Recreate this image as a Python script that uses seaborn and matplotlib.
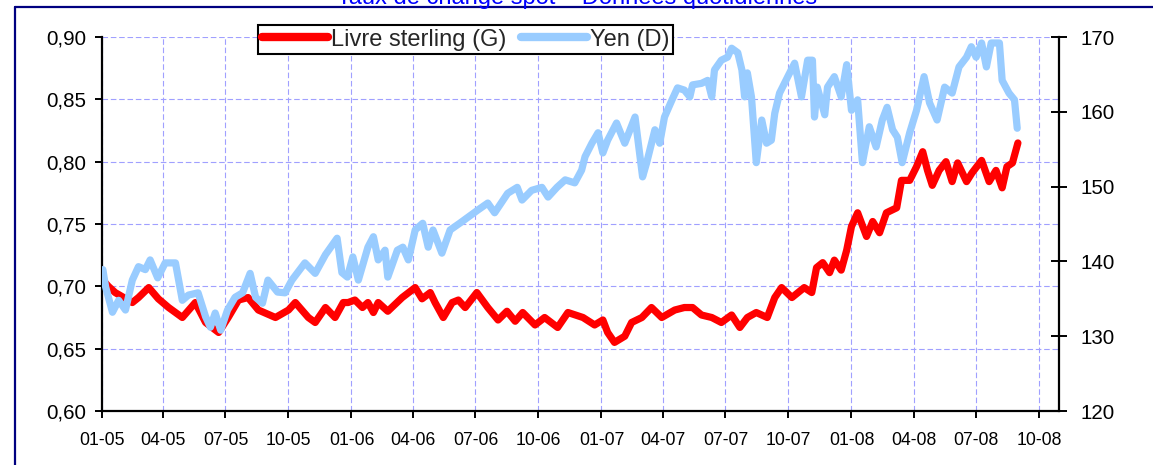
import matplotlib
matplotlib.use("Agg")
import matplotlib.pyplot as plt
import matplotlib.dates as mdates
from matplotlib.lines import Line2D
from matplotlib.ticker import FuncFormatter
import pandas as pd
import seaborn as sns

# EUR/GBP (left axis)
gbp_dates = [
    "2005-01-03", "2005-01-11", "2005-01-21", "2005-02-15", "2005-02-24", "2005-03-11", "2005-03-25",
    "2005-04-09", "2005-04-29", "2005-05-18", "2005-06-02", "2005-06-21", "2005-07-05", "2005-07-20",
    "2005-08-03", "2005-08-18", "2005-09-12", "2005-10-01", "2005-10-11", "2005-10-30", "2005-11-09",
    "2005-11-24", "2005-12-08", "2005-12-20", "2005-12-27",
    "2006-01-06", "2006-01-17", "2006-01-25", "2006-02-02", "2006-02-09", "2006-02-23", "2006-03-16",
    "2006-04-04", "2006-04-14", "2006-04-26", "2006-05-03", "2006-05-15", "2006-05-28", "2006-06-06",
    "2006-06-16", "2006-07-03", "2006-07-19", "2006-08-03", "2006-08-16", "2006-08-28", "2006-09-08",
    "2006-09-26", "2006-10-10", "2006-10-29", "2006-11-13", "2006-12-05", "2006-12-22",
    "2007-01-03", "2007-01-10", "2007-01-20", "2007-02-04", "2007-02-14", "2007-03-01", "2007-03-15",
    "2007-03-30", "2007-04-18", "2007-05-02", "2007-05-14", "2007-05-27", "2007-06-11", "2007-06-25",
    "2007-07-10", "2007-07-22", "2007-08-02", "2007-08-15", "2007-08-31", "2007-09-11", "2007-09-21",
    "2007-10-06", "2007-10-24", "2007-11-04", "2007-11-11", "2007-11-20", "2007-11-30", "2007-12-07",
    "2007-12-17", "2007-12-25",
    "2008-01-01", "2008-01-10", "2008-01-23", "2008-02-01", "2008-02-11", "2008-02-21", "2008-03-07",
    "2008-03-14", "2008-03-26", "2008-04-05", "2008-04-14", "2008-04-21", "2008-04-28", "2008-05-08",
    "2008-05-18", "2008-05-27", "2008-06-04", "2008-06-17", "2008-06-25", "2008-07-09", "2008-07-20",
    "2008-07-30", "2008-08-08", "2008-08-15", "2008-08-23", "2008-08-31",
]
gbp_values = [
    0.705, 0.700, 0.695, 0.687, 0.691, 0.699, 0.690, 0.683, 0.675, 0.687, 0.671, 0.663, 0.675, 0.689,
    0.691, 0.681, 0.675, 0.681, 0.687, 0.675, 0.671, 0.683, 0.675, 0.687, 0.687,
    0.689, 0.683, 0.687, 0.679, 0.687, 0.680, 0.691, 0.699, 0.690, 0.695, 0.687, 0.675, 0.687, 0.689,
    0.683, 0.695, 0.683, 0.673, 0.680, 0.672, 0.679, 0.669, 0.675, 0.667, 0.679, 0.675, 0.669,
    0.673, 0.663, 0.655, 0.660, 0.671, 0.675, 0.683, 0.675, 0.681, 0.683, 0.683, 0.677, 0.675, 0.671,
    0.677, 0.667, 0.675, 0.679, 0.675, 0.691, 0.699, 0.691, 0.699, 0.695, 0.715, 0.719, 0.711, 0.721,
    0.713, 0.729,
    0.748, 0.759, 0.740, 0.752, 0.743, 0.759, 0.763, 0.785, 0.785, 0.796, 0.808, 0.793, 0.781, 0.793,
    0.800, 0.784, 0.799, 0.784, 0.791, 0.801, 0.784, 0.793, 0.779, 0.796, 0.799, 0.815,
]

# EUR/JPY (right axis)
jpy_dates = [
    "2005-01-03", "2005-01-07", "2005-01-17", "2005-01-26", "2005-02-05", "2005-02-15", "2005-02-24",
    "2005-03-06", "2005-03-13", "2005-03-24", "2005-04-04", "2005-04-19", "2005-04-29", "2005-05-08",
    "2005-05-22", "2005-06-02", "2005-06-09", "2005-06-16", "2005-06-24", "2005-07-04", "2005-07-15",
    "2005-07-26", "2005-08-06", "2005-08-14", "2005-08-24", "2005-09-01", "2005-09-15", "2005-09-26",
    "2005-10-06", "2005-10-25", "2005-11-09", "2005-11-24", "2005-12-11", "2005-12-18", "2005-12-26",
    "2006-01-03", "2006-01-11", "2006-01-25", "2006-02-02", "2006-02-09", "2006-02-19", "2006-02-23",
    "2006-03-09", "2006-03-17", "2006-03-25", "2006-04-04", "2006-04-15", "2006-04-23", "2006-04-30",
    "2006-05-13", "2006-05-25", "2006-06-08", "2006-06-20", "2006-07-05", "2006-07-19", "2006-07-29",
    "2006-08-17", "2006-08-31", "2006-09-07", "2006-09-21", "2006-10-06", "2006-10-15", "2006-10-28",
    "2006-11-09", "2006-11-23", "2006-12-03", "2006-12-08", "2006-12-18", "2006-12-27",
    "2007-01-03", "2007-01-10", "2007-01-23", "2007-02-04", "2007-02-19", "2007-03-02", "2007-03-08",
    "2007-03-20", "2007-03-27", "2007-04-03", "2007-04-14", "2007-04-22", "2007-05-02", "2007-05-10",
    "2007-05-14", "2007-05-27", "2007-06-05", "2007-06-11", "2007-06-15", "2007-06-25", "2007-07-04",
    "2007-07-10", "2007-07-19", "2007-07-25", "2007-07-29", "2007-08-02", "2007-08-08", "2007-08-15",
    "2007-08-23", "2007-08-30", "2007-09-06", "2007-09-11", "2007-09-18", "2007-09-30", "2007-10-10",
    "2007-10-20", "2007-10-29", "2007-11-05", "2007-11-08", "2007-11-12", "2007-11-23", "2007-11-27",
    "2007-12-07", "2007-12-17", "2007-12-25",
    "2008-01-01", "2008-01-10", "2008-01-17", "2008-01-27", "2008-02-06", "2008-02-15", "2008-02-22",
    "2008-03-01", "2008-03-08", "2008-03-15", "2008-03-26", "2008-04-05", "2008-04-16", "2008-04-24",
    "2008-05-05", "2008-05-16", "2008-05-27", "2008-06-06", "2008-06-17", "2008-06-24", "2008-07-01",
    "2008-07-09", "2008-07-16", "2008-07-23", "2008-08-04", "2008-08-08", "2008-08-18", "2008-08-26",
    "2008-08-30",
]
jpy_values = [
    138.9, 136.6, 133.2, 134.8, 133.5, 137.5, 139.3, 138.9, 140.2, 137.8, 139.8, 139.8, 134.8, 135.5,
    135.8, 132.6, 131.2, 133.1, 130.8, 133.5, 135.2, 135.8, 138.4, 135.2, 134.4, 137.5, 135.9, 135.8,
    137.5, 139.8, 138.4, 140.9, 143.1, 138.5, 137.9,
    140.6, 137.5, 141.9, 143.3, 140.2, 141.5, 137.9, 141.5, 141.9, 140.2, 144.2, 145.1, 141.9, 144.2,
    141.1, 144.2, 145.1, 145.9, 146.9, 147.8, 146.5, 149.1, 149.9, 148.2, 149.5, 149.9, 148.6, 149.9,
    150.9, 150.5, 152.2, 154.0, 155.8, 157.2,
    154.5, 156.2, 158.5, 155.8, 159.3, 151.3, 153.2, 157.6, 155.8, 159.3, 161.6, 163.2, 162.9, 162.0,
    163.6, 163.8, 164.2, 162.0, 165.6, 166.9, 167.3, 168.5, 167.9, 165.6, 162.0, 165.2, 162.0, 153.2,
    158.9, 155.8, 156.2, 159.8, 162.5, 164.7, 166.5, 162.0, 166.9, 166.9, 159.3, 163.3, 159.6, 163.3,
    164.7, 162.0, 166.3,
    160.2, 161.6, 153.2, 158.0, 155.3, 158.9, 160.6, 157.6, 156.6, 153.2, 157.2, 160.2, 164.7, 161.2,
    158.9, 163.3, 162.5, 166.0, 167.3, 168.7, 167.3, 169.2, 166.0, 169.2, 169.2, 164.2, 162.5, 161.6,
    157.8,
]

left_ticks = [0.60, 0.65, 0.70, 0.75, 0.80, 0.85, 0.90]
right_ticks = [120, 130, 140, 150, 160, 170]
series_labels = ["Livre sterling (G)", "Yen (D)"]
title = "Taux de change spot – Données quotidiennes"

red = "#FF0000"
blue = "#99CCFF"
navy = "#000080"

sns.set_style("white")
plt.rcParams["font.family"] = ["Liberation Sans", "DejaVu Sans"]

gbp = pd.DataFrame({"date": pd.to_datetime(gbp_dates), "value": gbp_values})
jpy = pd.DataFrame({"date": pd.to_datetime(jpy_dates), "value": jpy_values})

W, H = 1153, 465
fig = plt.figure(figsize=(W / 100, H / 100), dpi=100)
ax = fig.add_axes([101.5 / W, 1 - 411 / H, (1059 - 101.5) / W, (411 - 37) / H])
ax2 = ax.twinx()

sns.lineplot(data=gbp, x="date", y="value", ax=ax, color=red, lw=5.2,
             solid_capstyle="round", solid_joinstyle="round", legend=False)
sns.lineplot(data=jpy, x="date", y="value", ax=ax2, color=blue, lw=5.2,
             solid_capstyle="round", solid_joinstyle="round", legend=False)

ax.set_xlim(pd.Timestamp("2005-01-01"), pd.Timestamp("2008-10-30"))
ax.set_ylim(0.60, 0.90)
ax2.set_ylim(120, 170)
ax.set_yticks(left_ticks)
ax2.set_yticks(right_ticks)
ax.yaxis.set_major_formatter(FuncFormatter(lambda v, p: f"{v:.2f}".replace(".", ",")))
ax.xaxis.set_major_locator(mdates.MonthLocator(bymonth=[1, 4, 7, 10]))
ax.xaxis.set_major_formatter(mdates.DateFormatter("%m-%y"))

ax.grid(True, color="#A0A0FF", lw=0.8, linestyle=(0, (5, 2.5)))
ax.set_xlabel("")
ax.set_ylabel("")
ax2.set_ylabel("")

for s in ["top", "right"]:
    ax.spines[s].set_visible(False)
for s in ["top", "left", "bottom"]:
    ax2.spines[s].set_visible(False)
for sp in [ax.spines["left"], ax.spines["bottom"], ax2.spines["right"]]:
    sp.set_color("black")
    sp.set_linewidth(1.6)

ax.tick_params(axis="y", left=True, direction="out", length=5, width=1.4,
               labelsize=14.8, pad=6, colors="black")
ax.tick_params(axis="x", bottom=True, direction="out", length=5, width=1.4,
               labelsize=12.7, pad=10, colors="black")
ax2.tick_params(axis="y", right=True, direction="inout", length=11, width=1.4,
                labelsize=14.8, pad=10, colors="black")

handles = [Line2D([], [], color=red, lw=6, solid_capstyle="round"),
           Line2D([], [], color=blue, lw=6, solid_capstyle="round")]
leg = fig.legend(handles, series_labels, loc="upper left",
                 bbox_to_anchor=(258 / W, 1 - 25 / H), ncol=2, fontsize=17,
                 frameon=True, fancybox=False, framealpha=1, edgecolor="black",
                 handlelength=2.8, handletextpad=0.15, columnspacing=0.6,
                 borderpad=0.15, borderaxespad=0)
leg.get_frame().set_linewidth(1.5)

# title sits partly above the top edge, as in the source page
fig.text(577 / W, 1 - 4 / H, title, ha="center", va="baseline", fontsize=17, color="#0000FF")

# dark blue frame of the original page
fig.add_artist(Line2D([15 / W, 1], [1 - 7 / H, 1 - 7 / H], transform=fig.transFigure, color=navy, lw=1.6))
fig.add_artist(Line2D([15 / W, 15 / W], [0, 1 - 7 / H], transform=fig.transFigure, color=navy, lw=1.6))

fig.savefig("out.png", dpi=100)
